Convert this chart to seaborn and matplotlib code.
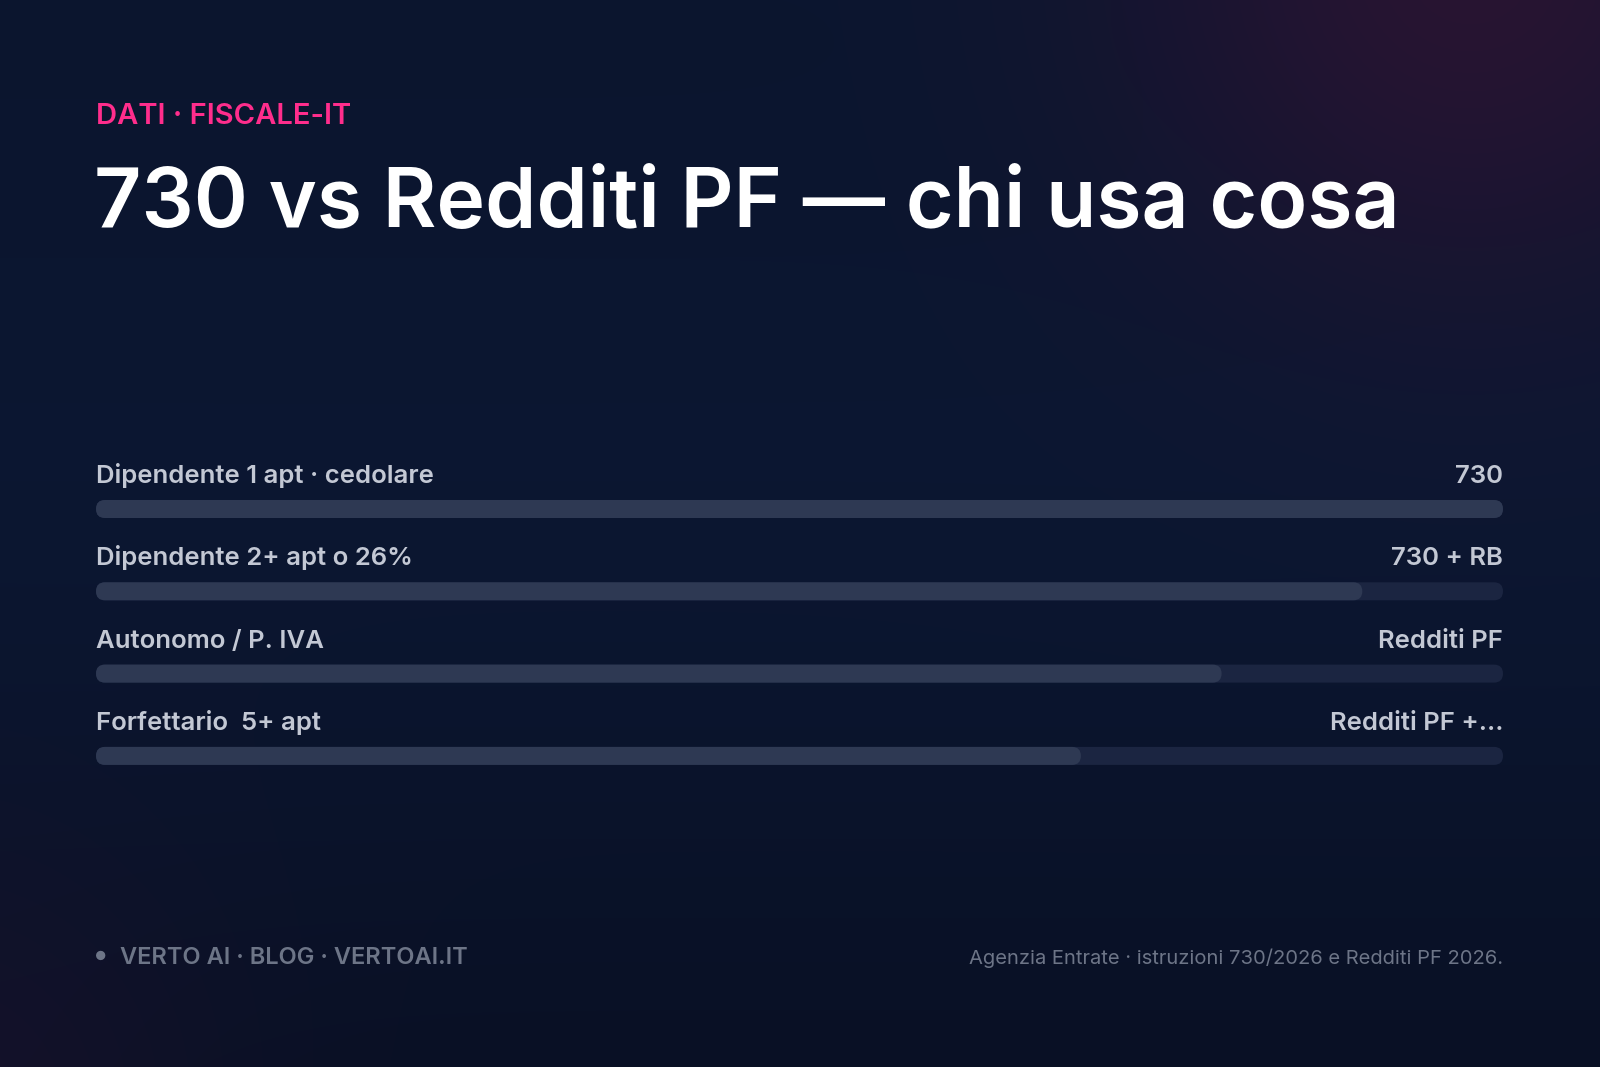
import numpy as np
import matplotlib
matplotlib.use("Agg")
import matplotlib.pyplot as plt
import seaborn as sns
from matplotlib.patches import FancyBboxPatch

# --- dati ---
categorie = ["Dipendente 1 apt · cedolare", "Dipendente 2+ apt o 26%",
             "Autonomo / P. IVA", "Forfettario  5+ apt"]
modello = ["730", "730 + RB", "Redditi PF", "Redditi PF +…"]
quota = [100, 90, 80, 70]
scala_max = 100

titolo = "730 vs Redditi PF — chi usa cosa"
occhiello = "DATI · FISCALE-IT"
footer_sx = "VERTO AI · BLOG · VERTOAI.IT"
footer_dx = "Agenzia Entrate · istruzioni 730/2026 e Redditi PF 2026."

# --- stile ---
sns.set_theme(style="white")
plt.rcParams["font.family"] = ["Inter", "DejaVu Sans"]

W, H = 1600, 1067
fig = plt.figure(figsize=(W / 100, H / 100), dpi=100)


def px(x, y):
    return x / W, 1 - y / H


# sfondo: gradiente blu notte con alone viola in alto a destra
yy, xx = np.mgrid[0:H, 0:W].astype(float)
t = yy / H
top = np.array([11, 21, 46]) / 255
mid = np.array([12, 25, 54]) / 255
bot = np.array([9, 16, 36]) / 255
w_mid = np.exp(-((t - 0.45) ** 2) / (2 * 0.25 ** 2))
base = (top[None, None, :] * (1 - t[..., None]) + bot[None, None, :] * t[..., None])
base = base * (1 - w_mid[..., None] * 0.6) + mid[None, None, :] * w_mid[..., None] * 0.6
viola = np.array([40, 20, 50]) / 255
g1 = np.exp(-((xx - 1470) ** 2 + (yy + 40) ** 2) / (2 * 240 ** 2))
g2 = np.exp(-((xx + 60) ** 2 + (yy - 1120) ** 2) / (2 * 200 ** 2)) * 0.35
g = np.clip(g1 + g2, 0, 1)[..., None]
img = base * (1 - g) + viola[None, None, :] * g
ax_bg = fig.add_axes([0, 0, 1, 1])
ax_bg.imshow(img, aspect="auto", extent=[0, 1, 0, 1], origin="upper")
ax_bg.axis("off")

# area barre
x0, x1 = 96, 1503
row0, step = 509, 82.3
y_top = row0 - step          # y = -1
y_bot = row0 + 3.5 * step    # y = 3.5
ax = fig.add_axes([x0 / W, 1 - y_bot / H, (x1 - x0) / W, (y_bot - y_top) / H])
ax.set_facecolor("none")

bar_h = 18 / step
sns.barplot(x=[scala_max] * len(categorie), y=categorie, orient="h",
            color="#1b2541", width=bar_h, ax=ax, saturation=1)
sns.barplot(x=quota, y=categorie, orient="h",
            color="#2e3953", width=bar_h, ax=ax, saturation=1)
ax.set_xlim(0, scala_max)
ax.set_ylim(3.5, -1)

# barre arrotondate
ppx = (x1 - x0) / scala_max
aspect = ppx / step
for p in list(ax.patches):
    bx, by, bw, bh = p.get_x(), p.get_y(), p.get_width(), p.get_height()
    fc = p.get_facecolor()
    p.remove()
    ax.add_patch(FancyBboxPatch((bx, by), bw, bh,
                                boxstyle=f"round,pad=0,rounding_size={9 / ppx}",
                                mutation_aspect=aspect, facecolor=fc,
                                edgecolor="none", linewidth=0))

for i, (cat, mod) in enumerate(zip(categorie, modello)):
    ax.text(0, i - 26 / step, cat, ha="left", va="baseline", fontsize=18.5,
            color="#c3c8d4", fontweight="semibold")
    ax.text(scala_max, i - 26 / step, mod, ha="right", va="baseline", fontsize=18.5,
            color="#c3c8d4", fontweight="semibold")

ax.set_xticks([])
ax.set_yticks([])
ax.set_xlabel("")
ax.set_ylabel("")
sns.despine(ax=ax, left=True, bottom=True)

# testi
fig.text(*px(96, 124), occhiello, ha="left", va="baseline", fontsize=21,
         color="#ff2d8c", fontweight="semibold")
fig.text(*px(94, 227), titolo, ha="left", va="baseline", fontsize=59.2,
         color="white", fontweight="semibold")
fig.text(*px(101, 957), "●", ha="center", va="center", fontsize=9,
         color="#6d7587")
fig.text(*px(120, 964), footer_sx, ha="left", va="baseline", fontsize=17,
         color="#6d7587", fontweight="semibold")
fig.text(*px(1503, 964), footer_dx, ha="right", va="baseline", fontsize=14.5,
         color="#6d7587")

fig.savefig("out.png", dpi=100)
